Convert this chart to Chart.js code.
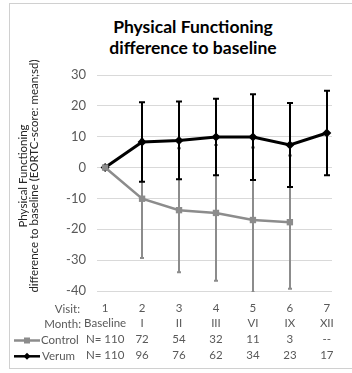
<!DOCTYPE html>
<html>
<head>
<meta charset="utf-8">
<script src="https://cdn.jsdelivr.net/npm/chart.js@4"></script>
<style>
  html, body { margin: 0; padding: 0; background: #fff; }
  #wrap { position: relative; width: 352px; height: 373px; overflow: hidden; }
  #frame {
    position: absolute; left: 9px; top: 3px; width: 360px; height: 366px;
    border: 1.5px solid #d0d0d0; box-sizing: border-box;
  }
  #title {
    position: absolute; left: 93px; top: 16px; width: 200px;
    text-align: center; font: bold 17.5px Lato, sans-serif; line-height: 21px;
    color: #000;
  }
  canvas { position: absolute; left: 0; top: 0; }
</style>
</head>
<body>
<div id="wrap">
  <div id="frame"></div>
  <div id="title">Physical Functioning<br>difference to baseline</div>
  <canvas id="c" width="352" height="373"></canvas>
</div>
<script>
  // values
  var visits = ["1", "2", "3", "4", "5", "6", "7"];
  var months = ["Baseline", "I", "II", "III", "VI", "IX", "XII"];
  var controlN = [110, 72, 54, 32, 11, 3, null];
  var verumN = [110, 96, 76, 62, 34, 23, 17];
  var controlMean = [0, -10.1, -13.8, -14.7, -17.0, -17.7, null];
  var controlSd = [0, 19.2, 20.1, 22.0, 23.5, 21.6, null];
  var verumMean = [0, 8.3, 8.8, 9.9, 9.9, 7.3, 11.2];
  var verumSd = [0, 12.9, 12.6, 12.4, 13.9, 13.6, 13.7];
  var yTitle = ["Physical Functioning", "difference to baseline (EORTC-score: mean;sd)"];

  var GRAY = "#8c8c8c";
  var TEXT = "#595959";
  var ROW_H = 15.8;
  var TICK_PAD = 9;

  function nLabel(v, i) {
    if (v == null) return "--";
    return i === 0 ? "N= " + v : String(v);
  }

  function points(means) {
    var out = [];
    means.forEach(function (m, i) { if (m != null) out.push({ x: i, y: m }); });
    return out;
  }

  // mean +/- sd whiskers, drawn through the chart scales
  var errorBarsPlugin = {
    id: "errorBars",
    beforeDatasetsDraw: function (chart) {
      var xs = chart.scales.x, ys = chart.scales.y, a = chart.chartArea;
      var c = chart.ctx;
      c.save();
      c.beginPath();
      c.rect(a.left, a.top - 1, a.right - a.left, a.bottom - a.top + 2);
      c.clip();
      [[controlMean, controlSd, GRAY, 2], [verumMean, verumSd, "#000", 3]].forEach(function (s) {
        c.strokeStyle = s[2];
        c.lineWidth = 2;
        s[0].forEach(function (m, i) {
          if (m == null || !s[1][i]) return;
          var px = Math.round(xs.getPixelForValue(i));
          var hi = ys.getPixelForValue(m + s[1][i]);
          var lo = ys.getPixelForValue(m - s[1][i]);
          c.beginPath();
          c.moveTo(px, hi); c.lineTo(px, lo);
          c.moveTo(px - s[3], hi); c.lineTo(px + s[3], hi);
          c.moveTo(px - s[3], lo); c.lineTo(px + s[3], lo);
          c.stroke();
        });
      });
      c.restore();
    }
  };

  // y title, row captions and legend keys left of the visit table
  var rowLabelsPlugin = {
    id: "rowLabels",
    afterDraw: function (chart) {
      var c = chart.ctx;
      var y0 = chart.chartArea.bottom + TICK_PAD + ROW_H / 2 + 1;
      c.save();
      c.fillStyle = "#262626";
      c.font = "11.5px Lato, sans-serif";
      c.textAlign = "center";
      c.textBaseline = "middle";
      c.translate(23, 176);
      c.rotate(-Math.PI / 2);
      c.fillText(yTitle[0], 0, 0);
      c.fillText(yTitle[1], 0, 11.3);
      c.restore();

      c.save();
      c.font = "11.5px Lato, sans-serif";
      c.fillStyle = TEXT;
      c.textBaseline = "middle";
      c.textAlign = "right";
      c.fillText("Visit:", 80, y0);
      c.fillText("Month:", 81, y0 + ROW_H);
      c.textAlign = "left";
      c.fillText("Control", 41, y0 + 2 * ROW_H);
      c.fillText("Verum", 42, y0 + 3 * ROW_H);
      // legend keys
      var yc = y0 + 2 * ROW_H, yv = y0 + 3 * ROW_H;
      c.lineWidth = 2.5;
      c.strokeStyle = GRAY;
      c.beginPath(); c.moveTo(14, yc); c.lineTo(40, yc); c.stroke();
      c.fillStyle = GRAY;
      c.fillRect(24, yc - 3, 6, 6);
      c.strokeStyle = "#000";
      c.beginPath(); c.moveTo(14, yv); c.lineTo(40, yv); c.stroke();
      c.fillStyle = "#000";
      c.beginPath();
      c.moveTo(27, yv - 3.5); c.lineTo(30.5, yv); c.lineTo(27, yv + 3.5); c.lineTo(23.5, yv);
      c.closePath(); c.fill();
      c.restore();
    }
  };

  new Chart(document.getElementById("c"), {
    type: "line",
    plugins: [errorBarsPlugin, rowLabelsPlugin],
    data: {
      datasets: [{
        label: "Control",
        data: points(controlMean),
        borderColor: GRAY,
        backgroundColor: GRAY,
        borderWidth: 2.5,
        pointStyle: "rect",
        pointRadius: 4.5,
        pointBorderWidth: 0,
        tension: 0
      }, {
        label: "Verum",
        data: points(verumMean),
        borderColor: "#000",
        backgroundColor: "#000",
        borderWidth: 3,
        pointStyle: "rectRot",
        pointRadius: 4.5,
        pointBorderWidth: 0,
        tension: 0
      }]
    },
    options: {
      responsive: false,
      animation: false,
      layout: { padding: { left: 0, right: 20, top: 75, bottom: 0 } },
      plugins: {
        legend: { display: false },
        tooltip: { enabled: false }
      },
      scales: {
        x: {
          type: "linear",
          min: -0.22,
          max: 6.14,
          grid: { display: false, drawTicks: false },
          border: { display: false },
          afterBuildTicks: function (scale) {
            scale.ticks = visits.map(function (v, i) { return { value: i }; });
          },
          afterFit: function (scale) { scale.height = 82; },
          ticks: {
            autoSkip: false,
            maxRotation: 0,
            padding: TICK_PAD,
            color: TEXT,
            font: { family: "Lato, sans-serif", size: 11.5, lineHeight: ROW_H / 11.5 },
            callback: function (v, i) {
              return [visits[i], months[i], nLabel(controlN[i], i), nLabel(verumN[i], i)];
            }
          }
        },
        y: {
          min: -40,
          max: 30,
          grid: { color: "#d9d9d9", lineWidth: 1, drawTicks: false },
          border: { display: false },
          afterFit: function (scale) { scale.width = 97; },
          ticks: {
            stepSize: 10,
            padding: 11,
            color: TEXT,
            font: { family: "Lato, sans-serif", size: 13 }
          }
        }
      }
    }
  });
</script>
</body>
</html>
